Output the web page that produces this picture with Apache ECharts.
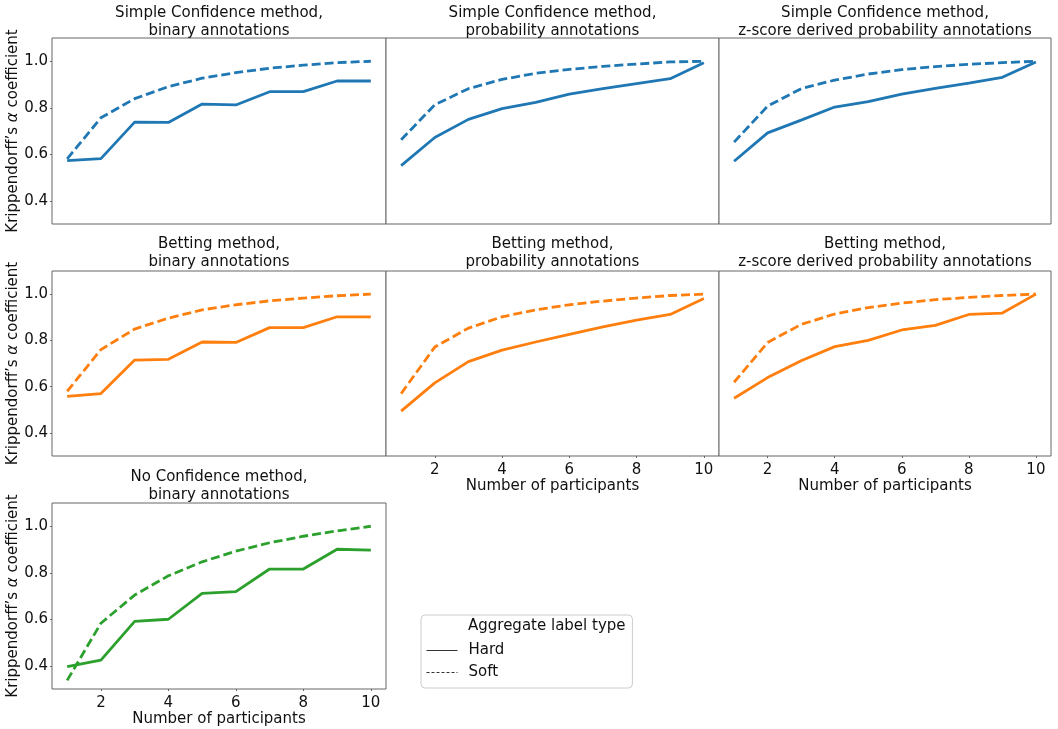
<!DOCTYPE html>
<html>
<head>
<meta charset="utf-8">
<script src="https://cdn.jsdelivr.net/npm/echarts@6/dist/echarts.min.js"></script>
<style>
html,body{margin:0;padding:0;background:#fff}
#main{width:1058px;height:729px}
</style>
</head>
<body>
<div id="main"></div>
<script>
// x axis: number of participants
var participants = [1, 2, 3, 4, 5, 6, 7, 8, 9, 10];

// Simple Confidence method
var scBinaryHard = [0.573, 0.581, 0.738, 0.737, 0.816, 0.812, 0.869, 0.869, 0.915, 0.915];
var scBinarySoft = [0.580, 0.757, 0.839, 0.891, 0.927, 0.951, 0.970, 0.983, 0.994, 1.000];
var scProbHard = [0.551, 0.672, 0.750, 0.796, 0.823, 0.859, 0.882, 0.904, 0.925, 0.994];
var scProbSoft = [0.662, 0.813, 0.882, 0.922, 0.948, 0.965, 0.978, 0.988, 0.997, 1.000];
var scZHard = [0.570, 0.692, 0.747, 0.803, 0.826, 0.859, 0.883, 0.906, 0.931, 0.997];
var scZSoft = [0.652, 0.807, 0.882, 0.919, 0.945, 0.964, 0.977, 0.987, 0.994, 1.000];

// Betting method
var btBinaryHard = [0.558, 0.570, 0.715, 0.718, 0.793, 0.791, 0.855, 0.855, 0.902, 0.902];
var btBinarySoft = [0.580, 0.760, 0.849, 0.896, 0.932, 0.954, 0.971, 0.983, 0.993, 1.000];
var btProbHard = [0.494, 0.616, 0.708, 0.758, 0.793, 0.826, 0.858, 0.888, 0.912, 0.981];
var btProbSoft = [0.570, 0.771, 0.853, 0.902, 0.932, 0.954, 0.970, 0.983, 0.994, 1.000];
var btZHard = [0.550, 0.639, 0.712, 0.773, 0.800, 0.845, 0.865, 0.912, 0.918, 1.000];
var btZSoft = [0.619, 0.791, 0.869, 0.914, 0.942, 0.961, 0.976, 0.986, 0.994, 1.000];

// No Confidence method
var ncBinaryHard = [0.396, 0.424, 0.591, 0.600, 0.711, 0.719, 0.816, 0.816, 0.901, 0.897];
var ncBinarySoft = [0.337, 0.583, 0.704, 0.787, 0.847, 0.893, 0.929, 0.957, 0.980, 1.000];

var panelTitles = [
    'Simple Confidence method,\nbinary annotations',
    'Simple Confidence method,\nprobability annotations',
    'Simple Confidence method,\nz-score derived probability annotations',
    'Betting method,\nbinary annotations',
    'Betting method,\nprobability annotations',
    'Betting method,\nz-score derived probability annotations',
    'No Confidence method,\nbinary annotations'
];
var hardSeries = [scBinaryHard, scProbHard, scZHard, btBinaryHard, btProbHard, btZHard, ncBinaryHard];
var softSeries = [scBinarySoft, scProbSoft, scZSoft, btBinarySoft, btProbSoft, btZSoft, ncBinarySoft];
var lineColors = ['#1f77b4', '#1f77b4', '#1f77b4', '#ff7f0e', '#ff7f0e', '#ff7f0e', '#2ca02c'];

// layout of the subplots
var colLeft = [52, 386, 719];
var colWidth = [334, 333, 332];
var rowTop = [38, 271, 503];
var rowHeight = [186, 185, 186];
var titleTop = [4, 235, 468];
var panelPos = [[0, 0], [0, 1], [0, 2], [1, 0], [1, 1], [1, 2], [2, 0]];
var showXLabels = [false, false, false, false, true, true, true];

var font = 'DejaVu Sans';
var txt = '#111';
var spine = '#666';

function toPoints(arr) {
    var pts = [];
    for (var i = 0; i < arr.length; i++) {
        pts.push([participants[i], arr[i]]);
    }
    return pts;
}

var grids = [], xAxes = [], yAxes = [], series = [], titles = [];

for (var p = 0; p < panelTitles.length; p++) {
    var r = panelPos[p][0], c = panelPos[p][1];
    grids.push({
        left: colLeft[c], top: rowTop[r], width: colWidth[c], height: rowHeight[r],
        show: true, borderColor: spine, borderWidth: 1, backgroundColor: '#fff'
    });
    titles.push({
        text: panelTitles[p],
        left: colLeft[c] + colWidth[c] / 2,
        top: titleTop[r],
        textAlign: 'center',
        padding: 0,
        textStyle: {fontFamily: font, fontSize: 15, fontWeight: 'normal', color: txt, lineHeight: 18}
    });
    var showX = showXLabels[p];
    xAxes.push({
        type: 'value', gridIndex: p, min: 0.55, max: 10.45,
        axisLine: {show: false}, splitLine: {show: false},
        axisTick: {show: showX, length: 2, lineStyle: {color: spine}},
        axisLabel: {
            show: showX, showMinLabel: false, showMaxLabel: false, margin: 7,
            fontFamily: font, fontSize: 15, color: txt
        },
        name: showX ? 'Number of participants' : '',
        nameLocation: 'middle', nameGap: 22,
        nameTextStyle: {fontFamily: font, fontSize: 15, color: txt}
    });
    var showY = (c === 0);
    yAxes.push({
        type: 'value', gridIndex: p, min: 0.3, max: 1.1,
        axisLine: {show: false}, splitLine: {show: false},
        axisTick: {show: showY, length: 2, lineStyle: {color: spine}},
        axisLabel: {
            show: showY, showMinLabel: false, showMaxLabel: false, margin: 4,
            fontFamily: font, fontSize: 15, color: txt,
            formatter: function (v) { return v.toFixed(1); }
        },
        name: showY ? 'Krippendorff\u2019s {a|\u03b1} coefficient' : '',
        nameLocation: 'middle', nameGap: 27,
        nameTextStyle: {
            fontFamily: font, fontSize: 15, color: txt,
            rich: {a: {fontFamily: font, fontSize: 15, fontStyle: 'italic', color: txt}}
        }
    });
    series.push({
        name: 'Hard', type: 'line', xAxisIndex: p, yAxisIndex: p,
        data: toPoints(hardSeries[p]), symbol: 'none',
        lineStyle: {color: lineColors[p], width: 2.8, type: 'solid'},
        itemStyle: {color: lineColors[p]}
    });
    series.push({
        name: 'Soft', type: 'line', xAxisIndex: p, yAxisIndex: p,
        data: toPoints(softSeries[p]), symbol: 'none',
        lineStyle: {color: lineColors[p], width: 2.8, type: [9, 4]},
        itemStyle: {color: lineColors[p]}
    });
}

// legend title
titles.push({
    text: 'Aggregate label type',
    left: 468, top: 619, padding: 0,
    textStyle: {fontFamily: font, fontSize: 15, fontWeight: 'normal', color: txt}
});

var myChart = echarts.init(document.getElementById('main'), null, {renderer: 'canvas'});
var option = {
    animation: false,
    backgroundColor: '#fff',
    title: titles,
    grid: grids,
    xAxis: xAxes,
    yAxis: yAxes,
    legend: {
        left: 421, top: 615, orient: 'vertical',
        padding: [28, 128, 8, 5],
        itemWidth: 31, itemHeight: 14, itemGap: 7,
        borderColor: '#ccc', borderWidth: 1, borderRadius: 4,
        backgroundColor: '#fff',
        selectedMode: false,
        textStyle: {fontFamily: font, fontSize: 15, color: txt, padding: [0, 0, 0, 6]},
        data: [
            {name: 'Hard', itemStyle: {opacity: 0}, lineStyle: {color: '#333', width: 1, type: 'solid'}},
            {name: 'Soft', itemStyle: {opacity: 0}, lineStyle: {color: '#333', width: 1, type: [3, 2]}}
        ]
    },
    series: series
};
myChart.setOption(option);
</script>
</body>
</html>
